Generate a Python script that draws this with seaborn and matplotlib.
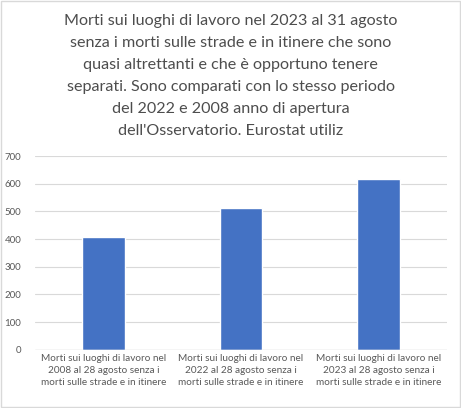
import seaborn as sns
import pandas as pd
import matplotlib.pyplot as plt

categorie = [
    "Morti sui luoghi di lavoro nel\n2008 al 28 agosto senza i\nmorti sulle strade e in itinere",
    "Morti sui luoghi di lavoro nel\n2022 al 28 agosto senza i\nmorti sulle strade e in itinere",
    "Morti sui luoghi di lavoro nel\n2023 al 28 agosto senza i\nmorti sulle strade e in itinere",
]
morti = [406, 511, 617]
titolo = ("Morti sui luoghi di lavoro nel 2023 al 31 agosto\n"
          "senza i morti sulle strade e in itinere che sono\n"
          "quasi altrettanti e che è opportuno tenere\n"
          "separati. Sono comparati con lo stesso periodo\n"
          "del 2022 e 2008 anno di apertura\n"
          "dell'Osservatorio. Eurostat utiliz")

df = pd.DataFrame({"cat": categorie, "morti": morti})

sns.set_style("white")
plt.rcParams['font.family'] = ['Lato', 'DejaVu Sans']

fig = plt.figure(figsize=(4.61, 4.08), dpi=100)
ax = fig.add_axes([35/461, 1-349.7/408, 412/461, (349.7-156)/408])

sns.barplot(data=df, x="cat", y="morti", color="#4472C4", width=0.31,
            saturation=1, ax=ax)

ax.set_ylim(0, 700)
ax.set_yticks(range(0, 701, 100))
ax.yaxis.grid(True, color="#D9D9D9", linewidth=0.8)
ax.set_axisbelow(True)
for s in ax.spines.values():
    s.set_visible(False)
ax.axhline(0, color="#D9D9D9", linewidth=1)
ax.set_xlabel("")
ax.set_ylabel("")
ax.tick_params(axis="both", length=0, colors="#595959", labelsize=7)
ax.tick_params(axis="y", pad=10)
ax.tick_params(axis="x", pad=3, labelsize=7.2)
for t in ax.get_xticklabels():
    t.set_linespacing(1.45)

fig.text(0.5, 1-14/408, titolo, ha="center", va="top", fontsize=11.6,
         color="#4D4D4D", linespacing=1.72)

fig.patches.append(plt.Rectangle((0.002, 0.002), 0.996, 0.996, transform=fig.transFigure,
                                 fill=False, edgecolor="#D9D9D9", linewidth=1))

plt.savefig("out.png", dpi=100)
